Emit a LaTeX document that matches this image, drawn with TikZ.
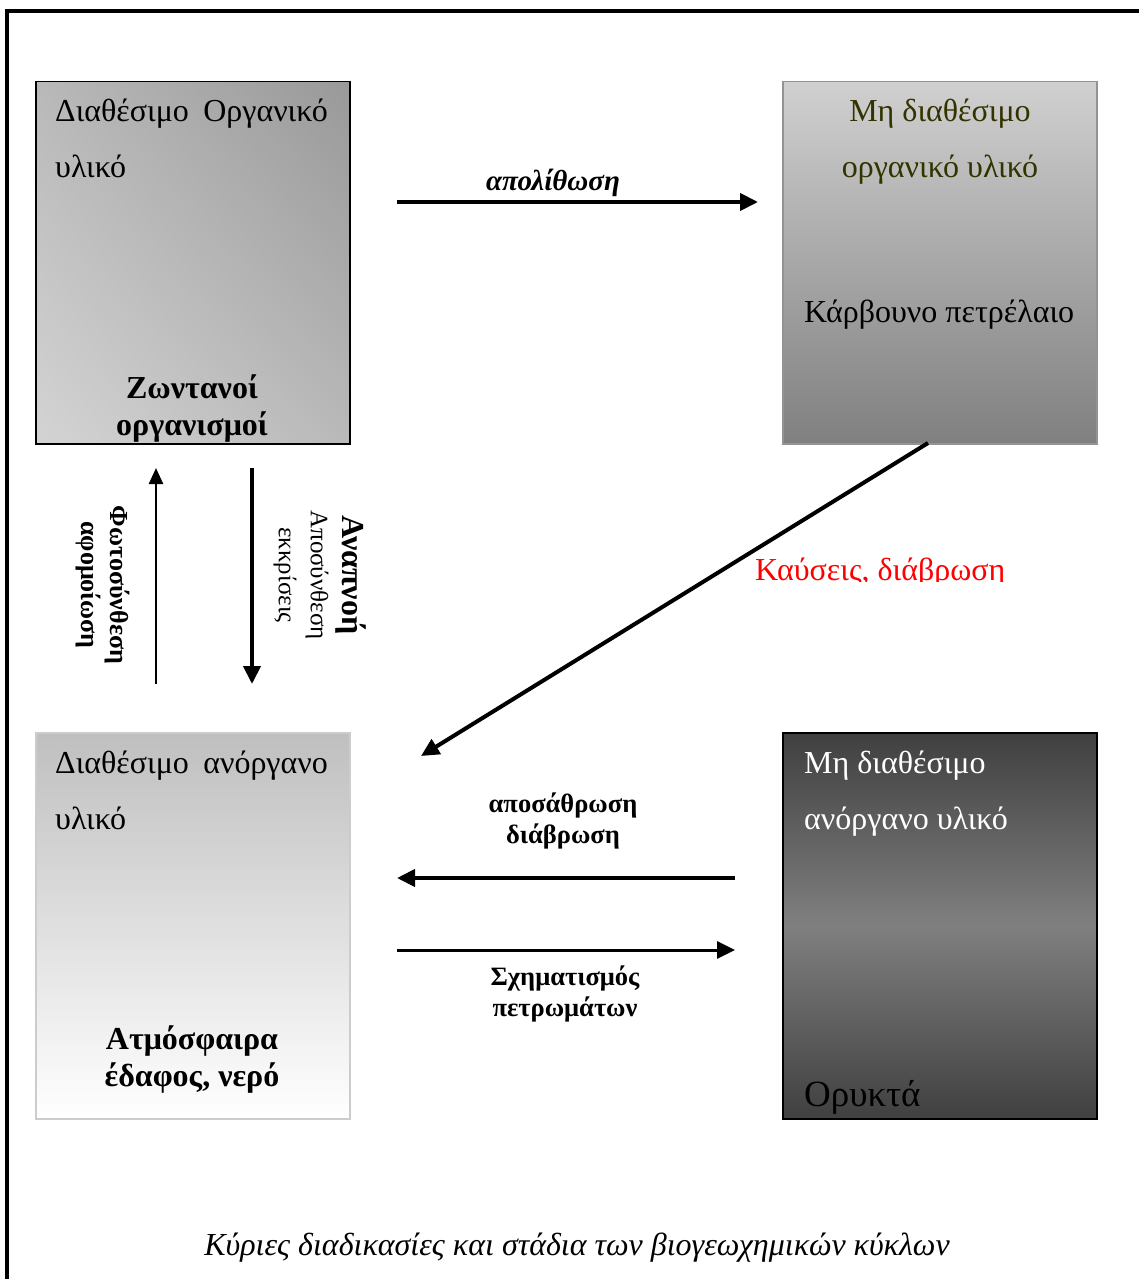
\documentclass[tikz,border=0pt]{standalone}
\usepackage{fontspec}
\setmainfont{Liberation Serif}
\usetikzlibrary{arrows.meta, positioning, shadings}
\definecolor{olivetext}{HTML}{333300}

\begin{document}
\begin{tikzpicture}[
        x=1pt, y=-1pt,
        % Κουτιά
        box/.style={
                rectangle,
                minimum width=314pt,
                minimum height=362pt,
                anchor=north west,
                line width=1.5pt
            },
        % Κείμενο στα κουτιά
        boxtext/.style={
                inner sep=0pt,
                align=left,
                anchor=base west,
                font=\fontsize{32}{56}\selectfont
            },
        boldtext/.style={
                inner sep=0pt,
                align=center,
                anchor=base,
                font=\fontsize{32}{37}\selectfont\bfseries
            },
        % Ετικέτες βελών
        arrowlabel/.style={
                inner sep=0pt,
                align=center,
                anchor=base,
                font=\fontsize{26.5}{31}\selectfont\bfseries
            },
        % Βέλη
        arrow/.style={
                -{Triangle[length=18pt, width=17pt]},
                line width=4pt
            },
        thinarrow/.style={
                -{Triangle[length=16pt, width=14pt]},
                line width=2.5pt
            }
    ]
    \useasboundingbox (0,0) rectangle (1139,1279);

    % Πλαίσιο
    \draw[line width=4pt] (7,1279) -- (7,11) -- (1139,11);

    % Κουτιά
    \node[box, draw=black, upper left=gray!55, upper right=gray!80,
        lower left=gray!34, lower right=gray!55] (org) at (35,81) {};
    \node[box, draw=gray!85, top color=gray!37, bottom color=gray] (fossil) at (782,81) {};
    \node[box, draw=gray!40, minimum height=386pt, top color=gray!50,
        bottom color=white] (anorg) at (35,732) {};
    \node[box, draw=black, minimum height=386pt, top color=black!75,
        bottom color=black!75, middle color=gray] (orykta) at (782,732) {};

    % Διαθέσιμο οργανικό υλικό
    \node[boxtext] (org-title) at (55,177) {Διαθέσιμο\hspace{0.2em} Οργανικό\\υλικό};
    \begin{scope}
        \clip (org.south west) rectangle ([yshift=-7pt]org.north east);
        \node[boldtext] (org-zoi) at (192,435) {Ζωντανοί\\οργανισμοί};
    \end{scope}

    % Μη διαθέσιμο οργανικό υλικό
    \node[boxtext, align=center, anchor=base, text=olivetext] (fossil-title) at (940,177) {Μη διαθέσιμο\\οργανικό υλικό};
    \node[boxtext] (fossil-kavsima) at (804,322) {Κάρβουνο πετρέλαιο};

    % Διαθέσιμο ανόργανο υλικό
    \node[boxtext] (anorg-title) at (55,829) {Διαθέσιμο\hspace{0.2em} ανόργανο\\υλικό};
    \node[boldtext] (anorg-atm) at (192,1086) {Ατμόσφαιρα\\έδαφος, νερό};

    % Μη διαθέσιμο ανόργανο υλικό
    \node[boxtext, text=white] (orykta-title) at (804,829) {Μη διαθέσιμο\\ανόργανο υλικό};
    \node[boxtext, font=\fontsize{37}{42}\selectfont] (orykta-name) at (804,1106) {Ορυκτά};

    % Άκρα βελών
    \coordinate (apol-a) at (397,202);
    \coordinate (apol-b) at (758,202);
    \coordinate (foto-a) at (156,684);
    \coordinate (foto-b) at (156,468);
    \coordinate (anap-a) at (252,468);
    \coordinate (anap-b) at (252,684);
    \coordinate (kaysi-a) at (928,443);
    \coordinate (kaysi-b) at (421,756);
    \coordinate (apos-a) at (735,878);
    \coordinate (apos-b) at (397,878);
    \coordinate (sxim-a) at (397,950);
    \coordinate (sxim-b) at (735,950);

    % Βέλη
    \draw[arrow] (apol-a) -- (apol-b);
    \draw[thinarrow] (foto-a) -- (foto-b);
    \draw[arrow] (anap-a) -- (anap-b);
    \draw[arrow] (kaysi-a) -- (kaysi-b);
    \draw[arrow] (apos-a) -- (apos-b);
    \draw[arrow, line width=3pt] (sxim-a) -- (sxim-b);

    % Ετικέτες
    \node[arrowlabel, font=\fontsize{29}{34}\selectfont\bfseries\itshape] (apol) at (553,190) {απολίθωση};
    \node[arrowlabel, rotate=-90, anchor=center, font=\fontsize{26}{29}\selectfont\bfseries] (foto) at (103,585) {Φωτοσύνθεση\\αφομοίωση};
    \node[arrowlabel, rotate=-90, anchor=center, font=\fontsize{25}{32}\selectfont] (anap) at (320,575) {{\fontsize{32}{32}\selectfont\bfseries Αναπνοή}\\Αποσύνθεση\\εκκρίσεις};
    \begin{scope}
        \clip (740,540) rectangle (1030,581);
        \node[boxtext, text=red] (kaysi) at (755,580) {Καύσεις, διάβρωση};
    \end{scope}
    \node[arrowlabel] (apos) at (563,843) {αποσάθρωση\\διάβρωση};
    \node[arrowlabel] (sxim) at (565,1016) {Σχηματισμός\\πετρωμάτων};

    % Λεζάντα
    \node[inner sep=0pt, anchor=base, font=\fontsize{32}{38}\selectfont\itshape] (caption) at (577,1255) {Κύριες διαδικασίες και στάδια των βιογεωχημικών κύκλων};

\end{tikzpicture}
\end{document}
